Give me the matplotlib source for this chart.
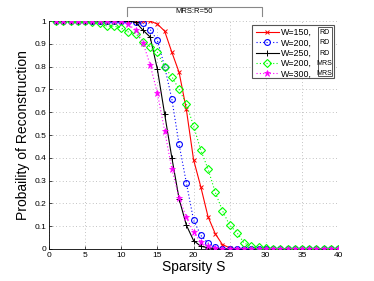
import matplotlib
matplotlib.use("Agg")
import matplotlib.pyplot as plt
from matplotlib.lines import Line2D
from matplotlib.patches import Rectangle
import numpy as np

plt.rcParams['font.family'] = ['Liberation Sans', 'DejaVu Sans']

sparsity = list(range(1, 41))

# W=150, RD
rd_150 = [1.0] * 14 + [0.987, 0.956, 0.863, 0.775, 0.613, 0.392, 0.273, 0.142,
                       0.067, 0.019, 0.005] + [0.0] * 15
# W=200, RD
rd_200 = [1.0] * 11 + [0.995, 0.99, 0.963, 0.915, 0.80, 0.657, 0.459, 0.291,
                       0.127, 0.06, 0.026, 0.007, 0.002] + [0.0] * 16
# W=250, RD
rd_250 = [1.0] * 11 + [0.995, 0.96, 0.93, 0.788, 0.592, 0.40, 0.22, 0.105,
                       0.037, 0.012, 0.005, 0.002] + [0.0] * 17
# W=200, MRS
mrs_200 = [1.0] * 5 + [0.995, 0.99, 0.978, 0.978, 0.97, 0.952, 0.945, 0.91,
                       0.888, 0.863, 0.797, 0.756, 0.70, 0.637, 0.54, 0.434,
                       0.351, 0.249, 0.168, 0.104, 0.072, 0.026, 0.012, 0.008,
                       0.004] + [0.0] * 10
# W=300, MRS
mrs_300 = [1.0] * 10 + [0.985, 0.96, 0.905, 0.808, 0.683, 0.519, 0.35, 0.225,
                        0.139, 0.073, 0.031, 0.012, 0.003] + [0.0] * 17

labels = ["W=150,", "W=200,", "W=250,", "W=200,", "W=300,"]
schemes = ["RD", "RD", "RD", "MRS", "MRS"]

fig = plt.figure(figsize=(3.74, 2.81), dpi=100)
ax = fig.add_axes([0.131, 0.114, 0.773, 0.811])

ax.plot(sparsity, rd_150, color="#ff0000", lw=0.8, marker="x", ms=3.5,
        mew=0.7, label=labels[0], zorder=3)
ax.plot(sparsity, rd_200, color="#0000ff", lw=0.8, ls=(0, (1, 2)), marker="o",
        ms=4.2, mfc="none", mew=0.8, label=labels[1], zorder=3)
ax.plot(sparsity, rd_250, color="black", lw=0.8, marker="+", ms=4.5,
        mew=0.7, label=labels[2], zorder=3)
ax.plot(sparsity, mrs_200, color="#00ff00", lw=0.8, ls=(0, (1, 2)), marker="D",
        ms=3.6, mfc="none", mew=0.8, label=labels[3], zorder=3)
ax.plot(sparsity, mrs_300, color="#ff00ff", lw=0.8, ls=(0, (1, 2)), marker="*",
        ms=4.5, mew=0.5, label=labels[4], zorder=4)

ax.set_xlim(0, 40)
ax.set_ylim(0, 1)
ax.set_xticks(range(0, 41, 5))
yt = np.round(np.arange(0, 1.01, 0.1), 1)
ax.set_yticks(yt)
ax.set_yticklabels(["0"] + [f"{v:g}" for v in yt[1:-1]] + ["1"])
ax.tick_params(direction="in", length=2.5, width=0.5, labelsize=6, pad=2)
ax.grid(True, ls=(0, (1, 3)), color="#b0b0b0", lw=0.6)
for s in ["top", "right"]:
    ax.spines[s].set_visible(False)
for s in ["left", "bottom"]:
    ax.spines[s].set_linewidth(0.6)

ax.set_xlabel("Sparsity S", fontsize=10, labelpad=1)
ax.set_ylabel("Probaility of Reconstruction", fontsize=10, labelpad=3)

# legend box (outer frame + scheme column), drawn in figure coords
x0, x1, y0, y1 = 0.674, 0.893, 0.722, 0.911
fig.patches.append(Rectangle((x0, y0), x1 - x0, y1 - y0,
                             transform=fig.transFigure, facecolor="white",
                             edgecolor="#555555", lw=0.8, zorder=8))
cx0 = 0.849
fig.patches.append(Rectangle((cx0, y0 + 0.006), x1 - cx0 - 0.006,
                             y1 - y0 - 0.012, transform=fig.transFigure,
                             fill=False, edgecolor="#555555", lw=0.7,
                             zorder=10))

leg = fig.legend(*ax.get_legend_handles_labels(), loc="upper left",
                 bbox_to_anchor=(x0 + 0.004, y1 - 0.003), fontsize=6.4,
                 handlelength=2.6, handletextpad=0.25, labelspacing=0.15,
                 borderpad=0.25, borderaxespad=0, frameon=False)
leg.set_zorder(9)
fig.canvas.draw()

for txt, sc in zip(leg.get_texts(), schemes):
    tb = txt.get_window_extent().transformed(fig.transFigure.inverted())
    fig.text((cx0 + x1 - 0.006) / 2, (tb.y0 + tb.y1) / 2, sc,
             fontsize=5, ha="center", va="center", zorder=11)

# title box
fig.add_artist(Line2D([0.339, 0.339, 0.701, 0.701],
                      [0.943, 0.975, 0.975, 0.943],
                      transform=fig.transFigure, color="#888888", lw=0.8))
fig.text(0.52, 0.960, "MRS:R=50", fontsize=5.5, ha="center", va="center")

fig.savefig("out.png", dpi=100)
